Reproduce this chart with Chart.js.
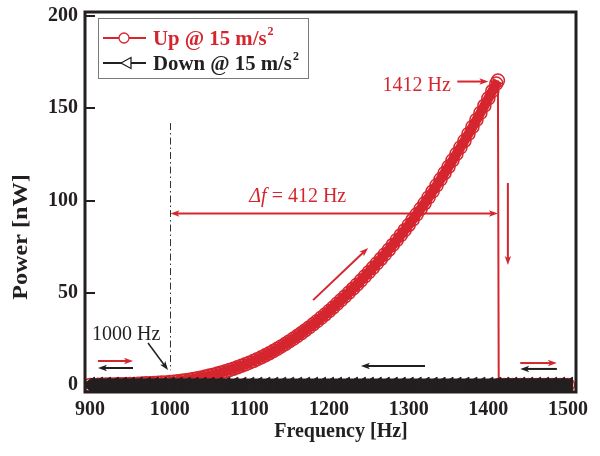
<!DOCTYPE html>
<html>
<head>
<meta charset="utf-8">
<script src="https://cdn.jsdelivr.net/npm/chart.js@4.4.0/dist/chart.umd.min.js"></script>
<style>
  html, body { margin: 0; padding: 0; background: #fff; }
  #wrap { width: 600px; height: 456px; }
</style>
</head>
<body>
<div id="wrap"><canvas id="powerChart" width="600" height="456"></canvas></div>
<script>
// axis ticks
const xTicks = [900, 1000, 1100, 1200, 1300, 1400, 1500];
const yTicks = [0, 50, 100, 150, 200];

// sweep up (Hz / nW)
const upFreq = [
  900, 905, 910, 915, 920, 925, 930, 935, 940, 945,
  950, 955, 960, 965, 970, 975, 980, 985, 990, 995,
  1000, 1005, 1010, 1015, 1020, 1025, 1030, 1035, 1040, 1045,
  1050, 1055, 1060, 1065, 1070, 1075, 1080, 1085, 1090, 1095,
  1100, 1105, 1110, 1115, 1120, 1125, 1130, 1135, 1140, 1145,
  1150, 1155, 1160, 1165, 1170, 1175, 1180, 1185, 1190, 1195,
  1200, 1205, 1210, 1215, 1220, 1225, 1230, 1235, 1240, 1245,
  1250, 1255, 1260, 1265, 1270, 1275, 1280, 1285, 1290, 1295,
  1300, 1305, 1310, 1315, 1320, 1325, 1330, 1335, 1340, 1345,
  1350, 1355, 1360, 1365, 1370, 1375, 1380, 1385, 1390, 1395,
  1400, 1405, 1410, 1412, 1413, 1415, 1420, 1425, 1430, 1435,
  1440, 1445, 1450, 1455, 1460, 1465, 1470, 1475, 1480, 1485,
  1490, 1495, 1500
];
const upPower = [
  0, 0.05, 0.1, 0.15, 0.2, 0.25, 0.3, 0.35, 0.4, 0.45,
  0.5, 0.6, 0.7, 0.8, 0.9, 1.0, 1.1, 1.2, 1.3, 1.4,
  1.6, 1.8, 2.0, 2.3, 2.6, 2.9, 3.3, 3.7, 4.1, 4.6,
  5.1, 5.6, 6.2, 6.8, 7.4, 8.1, 8.8, 9.6, 10.4, 11.2,
  12.1, 13.0, 14.0, 15.0, 16.1, 17.2, 18.4, 19.6, 20.9, 22.2,
  23.6, 25.0, 26.5, 28.0, 29.6, 31.2, 32.9, 34.6, 36.4, 38.2,
  40.1, 42.0, 44.0, 46.0, 48.0, 50.1, 52.2, 54.4, 56.6, 58.9,
  61.2, 63.5, 65.9, 68.3, 70.8, 73.3, 75.9, 78.5, 81.2, 83.9,
  86.7, 89.6, 92.5, 95.5, 98.5, 101.7, 104.9, 108.2, 111.5, 114.9,
  118.3, 121.8, 125.3, 128.8, 132.4, 136.1, 139.9, 143.7, 147.5, 151.4,
  155.4, 159.4, 163.4, 165.0, 0, 0, 0, 0, 0, 0,
  0, 0, 0, 0, 0, 0, 0, 0, 0, 0,
  0, 0, 0
];

// sweep down
const downFreq = [
  1500, 1490, 1480, 1470, 1460, 1450, 1440, 1430, 1420, 1410,
  1400, 1390, 1380, 1370, 1360, 1350, 1340, 1330, 1320, 1310,
  1300, 1290, 1280, 1270, 1260, 1250, 1240, 1230, 1220, 1210,
  1200, 1190, 1180, 1170, 1160, 1150, 1140, 1130, 1120, 1110,
  1100, 1090, 1080, 1070, 1060, 1050, 1040, 1030, 1020, 1010,
  1000, 990, 980, 970, 960, 950, 940, 930, 920, 910,
  900
];
const downPower = [
  0, 0, 0, 0, 0, 0, 0, 0, 0, 0,
  0, 0, 0, 0, 0, 0, 0, 0, 0, 0,
  0, 0, 0, 0, 0, 0, 0, 0, 0, 0,
  0, 0, 0, 0, 0, 0, 0, 0, 0, 0,
  0, 0, 0, 0, 0, 0, 0, 0, 0, 0,
  0, 0, 0, 0, 0, 0, 0, 0, 0, 0,
  0
];

const seriesNames = ['Up @ 15 m/s', 'Down @ 15 m/s'];
const xTitle = 'Frequency [Hz]';
const yTitle = 'Power [nW]';

const INK = '#231f20';
const RED = '#d5262f';
const SERIF = '"Liberation Serif", "Times New Roman", serif';

function pts(xs, ys) {
  return xs.map((v, i) => ({ x: v, y: ys[i] }));
}

function text(ctx, str, x, y, o) {
  ctx.save();
  ctx.font = o.font;
  ctx.fillStyle = o.color || INK;
  ctx.textAlign = o.align || 'left';
  ctx.textBaseline = o.baseline || 'alphabetic';
  ctx.translate(x, y);
  if (o.rotate) ctx.rotate(o.rotate);
  if (o.sx) ctx.scale(o.sx, 1);
  ctx.fillText(str, 0, 0);
  const w = ctx.measureText(str).width * (o.sx || 1);
  ctx.restore();
  return w;
}

function head(ctx, x, y, ang, len, half) {
  const c = Math.cos(ang), s = Math.sin(ang);
  ctx.beginPath();
  ctx.moveTo(x, y);
  ctx.lineTo(x - len * c + half * s, y - len * s - half * c);
  ctx.lineTo(x - len * c * 0.75, y - len * s * 0.75);
  ctx.lineTo(x - len * c - half * s, y - len * s + half * c);
  ctx.closePath();
  ctx.fill();
}

function arrow(ctx, x1, y1, x2, y2, color, lw, both) {
  const ang = Math.atan2(y2 - y1, x2 - x1);
  const len = 9, half = 3.2;
  ctx.save();
  ctx.strokeStyle = color;
  ctx.fillStyle = color;
  ctx.lineWidth = lw;
  ctx.beginPath();
  ctx.moveTo(x1 + (both ? Math.cos(ang) * len * 0.7 : 0), y1 + (both ? Math.sin(ang) * len * 0.7 : 0));
  ctx.lineTo(x2 - Math.cos(ang) * len * 0.7, y2 - Math.sin(ang) * len * 0.7);
  ctx.stroke();
  head(ctx, x2, y2, ang, len, half);
  if (both) head(ctx, x1, y1, ang + Math.PI, len, half);
  ctx.restore();
}

const decor = {
  id: 'decor',
  afterDatasetsDraw(chart) {
    const { ctx, chartArea: a, scales } = chart;
    const X = v => scales.x.getPixelForValue(v);
    const Y = v => scales.y.getPixelForValue(v);

    // dash-dot marker at 1000 Hz
    ctx.save();
    ctx.strokeStyle = '#333';
    ctx.lineWidth = 1;
    ctx.setLineDash([7, 3, 1.5, 3]);
    ctx.beginPath();
    ctx.moveTo(Math.round(X(1001)) + 0.5, Y(142));
    ctx.lineTo(Math.round(X(1001)) + 0.5, Y(8));
    ctx.stroke();
    ctx.restore();

    // delta f span
    arrow(ctx, X(1001), Y(93), X(1412), Y(93), RED, 2, true);
    const fa = 'italic 20px ' + SERIF, fr = '20px ' + SERIF;
    let tx = X(1100), ty = Y(99.2);
    tx += text(ctx, '\u0394f', tx, ty, { font: fa, color: RED });
    text(ctx, ' = 412 Hz', tx, ty, { font: fr, color: RED });

    // peak label
    text(ctx, '1412 Hz', X(1353), Y(159.5), { font: fr, color: RED, align: 'right' });
    arrow(ctx, X(1361), Y(164.5), X(1400), Y(164.5), RED, 2, false);

    // direction arrows
    arrow(ctx, X(1424.5), Y(109.5), X(1424.5), Y(65), RED, 2, false);
    arrow(ctx, X(1180), Y(46), X(1249), Y(74.3), RED, 2, false);
    arrow(ctx, X(1320.5), Y(10.3), X(1240), Y(10.3), INK, 2, false);
    arrow(ctx, X(910), Y(13), X(954), Y(13), RED, 2, false);
    arrow(ctx, X(954), Y(9.2), X(910), Y(9.2), INK, 2, false);
    arrow(ctx, X(1440), Y(11.9), X(1486), Y(11.9), RED, 2, false);
    arrow(ctx, X(1486), Y(8.7), X(1440), Y(8.7), INK, 2, false);

    // onset label
    text(ctx, '1000 Hz', X(902.5), Y(24.4), { font: fr, color: INK });
    arrow(ctx, X(972.8), Y(22.8), X(997.9), Y(8.1), INK, 1.5, false);

    // frame + inward ticks
    ctx.save();
    ctx.strokeStyle = INK;
    ctx.lineWidth = 3;
    ctx.strokeRect(a.left, a.top, a.right - a.left, a.bottom - a.top);
    ctx.lineWidth = 2;
    ctx.beginPath();
    yTicks.forEach(v => {
      const py = Math.round(Y(v));
      ctx.moveTo(a.left, py);
      ctx.lineTo(a.left + 10, py);
    });
    xTicks.forEach(v => {
      const px = Math.round(X(v));
      ctx.moveTo(px, a.bottom);
      ctx.lineTo(px, a.bottom - 6);
    });
    ctx.stroke();
    ctx.restore();

    // tick labels
    const ft = 'bold 20px ' + SERIF;
    yTicks.forEach(v => text(ctx, String(v), 78, Y(v), { font: ft, align: 'right', baseline: 'middle' }));
    xTicks.forEach(v => text(ctx, String(v), X(v), a.bottom + 23, { font: ft, align: 'center' }));

    // axis titles
    text(ctx, xTitle, 341, 437, { font: 'bold 20px ' + SERIF, align: 'center' });
    text(ctx, yTitle, 22, 237, { font: 'bold 21px ' + SERIF, align: 'center', baseline: 'middle', rotate: -Math.PI / 2, sx: 1.15 });

    // legend
    ctx.save();
    ctx.strokeStyle = '#7a7a7a';
    ctx.lineWidth = 1;
    ctx.strokeRect(98.5, 18.5, 210, 60);
    const rows = [
      { y: 38, color: RED, name: seriesNames[0] },
      { y: 63, color: INK, name: seriesNames[1] }
    ];
    rows.forEach((r, i) => {
      ctx.strokeStyle = r.color;
      ctx.lineWidth = 2;
      ctx.beginPath();
      ctx.moveTo(103, r.y);
      ctx.lineTo(146, r.y);
      ctx.stroke();
      ctx.fillStyle = '#fff';
      ctx.lineWidth = 1.3;
      ctx.beginPath();
      if (i === 0) {
        ctx.arc(124, r.y, 5, 0, Math.PI * 2);
      } else {
        ctx.moveTo(121, r.y);
        ctx.lineTo(131, r.y - 5.5);
        ctx.lineTo(131, r.y + 5.5);
        ctx.closePath();
      }
      ctx.fill();
      ctx.stroke();
      const fl = 'bold 20px ' + SERIF;
      const w = text(ctx, r.name, 153, r.y + 7, { font: fl, color: r.color, sx: 1.04 });
      text(ctx, '2', 153 + w + 1, r.y - 3, { font: 'bold 12px ' + SERIF, color: r.color });
    });
    ctx.restore();
  }
};

new Chart(document.getElementById('powerChart'), {
  type: 'line',
  data: {
    datasets: [
      {
        label: seriesNames[1],
        data: pts(downFreq, downPower),
        order: 0,
        borderColor: INK,
        borderWidth: 13,
        pointStyle: 'triangle',
        pointRotation: 270,
        pointRadius: 9,
        pointBorderWidth: 1,
        pointBorderColor: INK,
        pointBackgroundColor: INK
      },
      {
        label: seriesNames[0],
        data: pts(upFreq, upPower),
        order: 1,
        borderColor: RED,
        borderWidth: 2,
        borderJoinStyle: 'round',
        segment: {
          borderWidth: c => (c.p0.parsed.x >= 1412 ? 2 : 10)
        },
        pointStyle: 'circle',
        pointRadius: 6.5,
        pointBorderWidth: 1.5,
        pointBorderColor: RED,
        pointBackgroundColor: 'rgba(255,255,255,0)'
      }
    ]
  },
  options: {
    responsive: false,
    animation: false,
    events: [],
    devicePixelRatio: 1,
    layout: { padding: { top: 12, right: 24, left: 0, bottom: 0 } },
    plugins: { legend: { display: false }, tooltip: { enabled: false } },
    scales: {
      x: {
        type: 'linear',
        min: 893.7,
        max: 1510,
        grid: { display: false },
        border: { display: false },
        ticks: { display: false },
        afterBuildTicks: s => { s.ticks = xTicks.map(v => ({ value: v })); },
        afterFit: s => { s.height = 64; }
      },
      y: {
        type: 'linear',
        min: -3.8,
        max: 202.2,
        grid: { display: false },
        border: { display: false },
        ticks: { display: false },
        afterBuildTicks: s => { s.ticks = yTicks.map(v => ({ value: v })); },
        afterFit: s => { s.width = 85; }
      }
    }
  },
  plugins: [decor]
});
</script>
</body>
</html>
